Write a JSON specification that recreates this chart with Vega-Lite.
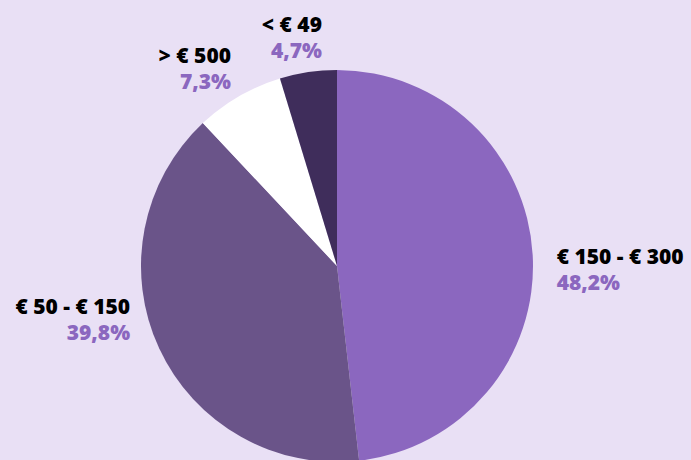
{
  "$schema": "https://vega.github.io/schema/vega-lite/v6.json",
  "autosize": {"type": "none"},
  "width": 674,
  "height": 532,
  "padding": {"left": 0, "top": 0, "right": 17, "bottom": -72},
  "background": "#E9E0F5",
  "config": {"view": {"stroke": null}, "text": {"font": "Open Sans", "fontSize": 21, "fontWeight": 800}},
  "data": {
    "values": [
      {"category": "€ 150 - € 300", "pct": "48,2%", "value": 48.2, "order": 1},
      {"category": "€ 50 - € 150", "pct": "39,8%", "value": 39.8, "order": 2},
      {"category": "> € 500", "pct": "7,3%", "value": 7.3, "order": 3},
      {"category": "< € 49", "pct": "4,7%", "value": 4.7, "order": 4}
    ]
  },
  "transform": [
    {"window": [{"op": "sum", "field": "value", "as": "cum"}], "sort": [{"field": "order"}], "frame": [null, 0]},
    {"calculate": "datum.cum - datum.value / 2", "as": "mid"}
  ],
  "layer": [
    {
      "mark": {"type": "arc", "outerRadius": 196},
      "encoding": {
        "theta": {"field": "value", "type": "quantitative", "stack": true, "scale": {"domain": [0, 100]}},
        "order": {"field": "order", "type": "quantitative"},
        "color": {"field": "category", "type": "nominal", "legend": null,
          "scale": {"domain": ["€ 150 - € 300", "€ 50 - € 150", "> € 500", "< € 49"], "range": ["#8B67BF", "#6A5489", "#FFFFFF", "#3F2D5B"]}}
      }
    },
    {
      "transform": [{"filter": "datum.order === 1"}],
      "mark": {"type": "text", "radius": 220, "align": "left", "baseline": "middle", "dy": 4.5, "color": "#000000"},
      "encoding": {"theta": {"field": "mid", "type": "quantitative", "stack": null}, "text": {"field": "category"}}
    },
    {
      "transform": [{"filter": "datum.order === 1"}],
      "mark": {"type": "text", "radius": 220, "align": "left", "baseline": "middle", "dy": 30, "color": "#8B67BF"},
      "encoding": {"theta": {"field": "mid", "type": "quantitative", "stack": null}, "text": {"field": "pct"}}
    },
    {
      "transform": [{"filter": "datum.order === 2"}],
      "mark": {"type": "text", "radius": 228, "align": "right", "baseline": "middle", "dy": -53.3, "color": "#000000"},
      "encoding": {"theta": {"field": "mid", "type": "quantitative", "stack": null}, "text": {"field": "category"}}
    },
    {
      "transform": [{"filter": "datum.order === 2"}],
      "mark": {"type": "text", "radius": 228, "align": "right", "baseline": "middle", "dy": -27.3, "color": "#8B67BF"},
      "encoding": {"theta": {"field": "mid", "type": "quantitative", "stack": null}, "text": {"field": "pct"}}
    },
    {
      "transform": [{"filter": "datum.order === 3"}],
      "mark": {"type": "text", "radius": 225, "align": "right", "baseline": "middle", "dx": 6.7, "dy": -13.8, "color": "#000000"},
      "encoding": {"theta": {"field": "mid", "type": "quantitative", "stack": null}, "text": {"field": "category"}}
    },
    {
      "transform": [{"filter": "datum.order === 3"}],
      "mark": {"type": "text", "radius": 225, "align": "right", "baseline": "middle", "dx": 6.7, "dy": 12.2, "color": "#8B67BF"},
      "encoding": {"theta": {"field": "mid", "type": "quantitative", "stack": null}, "text": {"field": "pct"}}
    },
    {
      "transform": [{"filter": "datum.order === 4"}],
      "mark": {"type": "text", "radius": 230, "align": "right", "baseline": "middle", "dx": 18.8, "dy": -12.5, "color": "#000000"},
      "encoding": {"theta": {"field": "mid", "type": "quantitative", "stack": null}, "text": {"field": "category"}}
    },
    {
      "transform": [{"filter": "datum.order === 4"}],
      "mark": {"type": "text", "radius": 230, "align": "right", "baseline": "middle", "dx": 18.8, "dy": 13.5, "color": "#8B67BF"},
      "encoding": {"theta": {"field": "mid", "type": "quantitative", "stack": null}, "text": {"field": "pct"}}
    }
  ]
}
